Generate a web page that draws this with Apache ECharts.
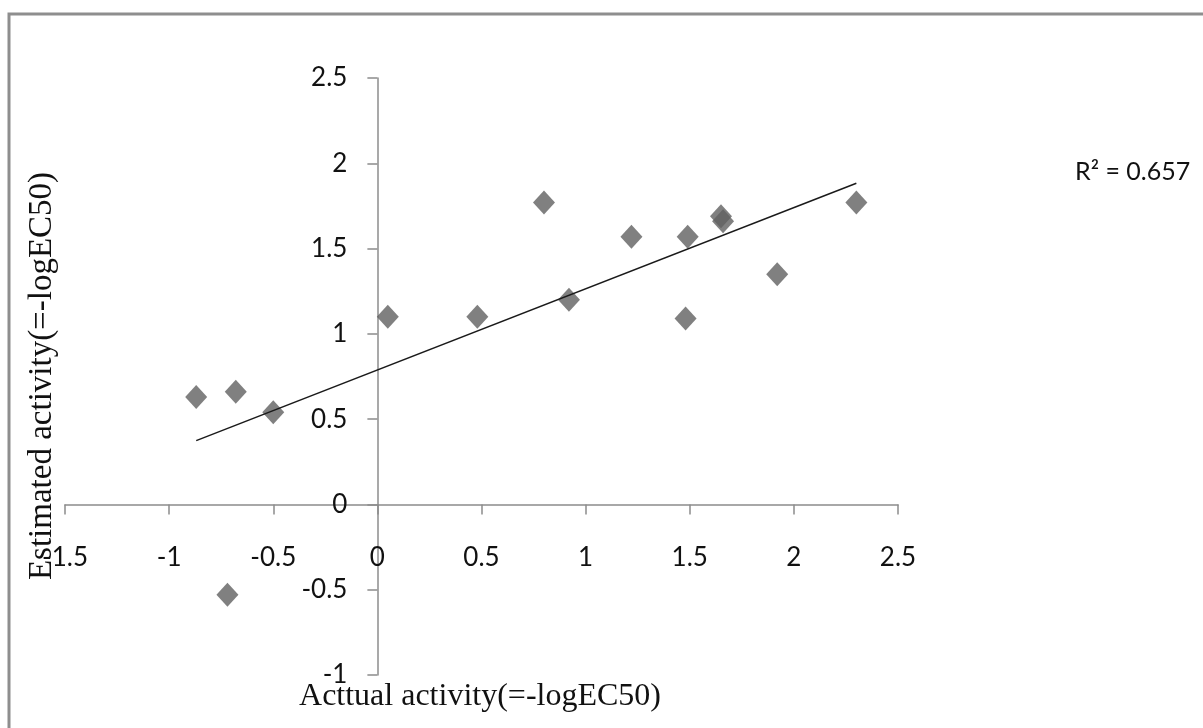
<!DOCTYPE html>
<html>
<head>
<meta charset="utf-8">
<script src="https://cdn.jsdelivr.net/npm/echarts@6/dist/echarts.min.js"></script>
<style>
html,body{margin:0;padding:0;background:#fff;}
#main{width:1203px;height:728px;}
</style>
</head>
<body>
<div id="main"></div>
<script>
// Data
var actualActivity = [-0.87, -0.68, -0.50, -0.72, 0.05, 0.48, 0.80, 0.92, 1.22, 1.49, 1.48, 1.65, 1.66, 1.92, 2.30];
var estimatedActivity = [0.63, 0.66, 0.54, -0.53, 1.10, 1.10, 1.77, 1.20, 1.57, 1.57, 1.09, 1.69, 1.66, 1.35, 1.77];
var trendX = [-0.87, 2.30];
var trendY = [0.374, 1.883];
var xTicks = [-1.5, -1, -0.5, 0, 0.5, 1, 1.5, 2, 2.5];
var yTicks = [-1, -0.5, 0, 0.5, 1, 1.5, 2, 2.5];
var xTitle = 'Acttual activity(=-logEC50)';
var yTitle = 'Estimated activity(=-logEC50)';
var r2Label = 'R\u00b2 = 0.657';

var points = actualActivity.map(function (x, i) { return [x, estimatedActivity[i]]; });
var trend = trendX.map(function (x, i) { return [x, trendY[i]]; });

var W = 1203, H = 728;
var gridL = 65, gridR = 305, gridT = 78, gridB = 53;
var gw = W - gridL - gridR, gh = H - gridT - gridB;
var xMin = xTicks[0], xMax = xTicks[xTicks.length - 1];
var yMin = yTicks[0], yMax = yTicks[yTicks.length - 1];
// axes cross at zero: shift each axis from the grid edge to the zero line of the other axis
var yAxisOffset = -gw * (0 - xMin) / (xMax - xMin);
var xAxisOffset = -gh * (0 - yMin) / (yMax - yMin);

var axisColor = '#8c8c8c';
var labelFont = 'Lato, "Open Sans", sans-serif';
var serif = '"Liberation Serif", "DejaVu Serif", serif';

var chart = echarts.init(document.getElementById('main'), null, {renderer: 'canvas'});
chart.setOption({
  animation: false,
  backgroundColor: '#fff',
  grid: {left: gridL, right: gridR, top: gridT, bottom: gridB, containLabel: false, outerBoundsMode: 'none'},
  xAxis: {
    type: 'value', position: 'bottom', offset: xAxisOffset,
    min: xMin, max: xMax, interval: 0.5,
    axisLine: {show: true, onZero: false, lineStyle: {color: axisColor, width: 1.5}},
    axisTick: {show: true, inside: false, length: 10, lineStyle: {color: axisColor, width: 1.5}},
    axisLabel: {color: '#111', fontFamily: labelFont, fontSize: 26, margin: 40, hideOverlap: false},
    splitLine: {show: false}
  },
  yAxis: {
    type: 'value', position: 'left', offset: yAxisOffset,
    min: yMin, max: yMax, interval: 0.5,
    axisLine: {show: true, onZero: false, lineStyle: {color: axisColor, width: 1.5}},
    axisTick: {show: true, inside: false, length: 10, lineStyle: {color: axisColor, width: 1.5}},
    axisLabel: {color: '#111', fontFamily: labelFont, fontSize: 26, margin: 30, hideOverlap: false},
    splitLine: {show: false}
  },
  graphic: [
    {type: 'rect', shape: {x: 9, y: 14, width: 1260, height: 800}, style: {fill: 'none', stroke: '#8e8e8e', lineWidth: 3}, silent: true, z: -10},
    {type: 'text', x: 480, y: 697, style: {text: xTitle, font: '32px ' + serif, fill: '#111', textAlign: 'center', textVerticalAlign: 'middle'}},
    {type: 'text', x: 42, y: 376, rotation: Math.PI / 2, style: {text: yTitle, font: '33px ' + serif, fill: '#111', textAlign: 'center', textVerticalAlign: 'middle'}},
    {type: 'text', x: 1075, y: 172, style: {text: r2Label, font: '25px ' + labelFont, fill: '#111', textAlign: 'left', textVerticalAlign: 'middle'}}
  ],
  series: [
    {
      type: 'line',
      data: trend,
      symbol: 'none',
      lineStyle: {color: '#1a1a1a', width: 1.5},
      z: 3
    },
    {
      type: 'scatter',
      data: points,
      symbol: 'diamond',
      symbolSize: [22, 24],
      itemStyle: {color: '#606060'},
      z: 2
    }
  ]
});
</script>
</body>
</html>
